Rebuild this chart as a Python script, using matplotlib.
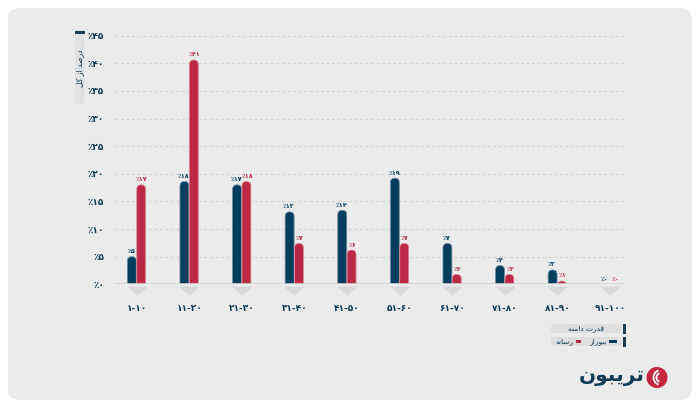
import matplotlib
matplotlib.use("Agg")
import matplotlib.pyplot as plt
from matplotlib.patches import FancyBboxPatch, Circle, Arc, Rectangle

# ---------------- data ----------------
categories = ['۱-۱۰', '۱۱-۲۰', '۲۱-۳۰', '۳۱-۴۰', '۴۱-۵۰',
              '۵۱-۶۰', '۶۱-۷۰', '۷۱-۸۰', '۸۱-۹۰', '۹۱-۱۰۰']
blue_values = [5.0, 18.6, 18.0, 13.1, 13.4, 19.2, 7.4, 3.4, 2.6, 0.0]
red_values = [18.0, 40.6, 18.6, 7.4, 6.2, 7.4, 1.8, 1.8, 0.6, 0.0]
blue_labels = ['٪۵', '٪۱۸', '٪۱۷', '٪۱۳', '٪۱۴', '٪۱۹', '٪۷', '٪۴', '٪۳', '٪۰']
red_labels = ['٪۱۷', '٪۴۱', '٪۱۸', '٪۷', '٪۶', '٪۷', '٪۲', '٪۲', '٪۱', '٪۰']
yticks = [0, 5, 10, 15, 20, 25, 30, 35, 40, 45]
ytick_labels = ['٪۰', '٪۵', '٪۱۰', '٪۱۵', '٪۲۰', '٪۲۵', '٪۳۰', '٪۳۵', '٪۴۰', '٪۴۵']
ylabel_text = 'درصد از کل'
legend_title = 'قدرت دامنه'
blue_name = 'بیوزار'
red_name = 'رسانه'
logo_text = 'تریبون'

BLUE = '#013e5e'
RED = '#bb2946'
NAVY = '#0f3b55'
CARD = '#ebebeb'

# ---------------- simple Arabic/Persian shaping ----------------
FORMS = {
    'ا': ('\uFE8D', '\uFE8E', None, None),
    'ب': ('\uFE8F', '\uFE90', '\uFE91', '\uFE92'),
    'ت': ('\uFE95', '\uFE96', '\uFE97', '\uFE98'),
    'د': ('\uFEA9', '\uFEAA', None, None),
    'ر': ('\uFEAD', '\uFEAE', None, None),
    'ز': ('\uFEAF', '\uFEB0', None, None),
    'س': ('\uFEB1', '\uFEB2', '\uFEB3', '\uFEB4'),
    'ص': ('\uFEB9', '\uFEBA', '\uFEBB', '\uFEBC'),
    'ق': ('\uFED5', '\uFED6', '\uFED7', '\uFED8'),
    'ک': ('\uFB8E', '\uFB8F', '\uFB90', '\uFB91'),
    'ل': ('\uFEDD', '\uFEDE', '\uFEDF', '\uFEE0'),
    'م': ('\uFEE1', '\uFEE2', '\uFEE3', '\uFEE4'),
    'ن': ('\uFEE5', '\uFEE6', '\uFEE7', '\uFEE8'),
    'ه': ('\uFEE9', '\uFEEA', '\uFEEB', '\uFEEC'),
    'و': ('\uFEED', '\uFEEE', None, None),
    'ی': ('\uFBFC', '\uFBFD', '\uFBFE', '\uFBFF'),
}


def shape(text):
    out = []
    for i, c in enumerate(text):
        if c not in FORMS:
            out.append(c)
            continue
        prev = text[i - 1] if i > 0 else None
        nxt = text[i + 1] if i + 1 < len(text) else None
        jp = prev in FORMS and FORMS[prev][2] is not None
        jn = nxt in FORMS and FORMS[c][2] is not None
        iso, fin, ini, med = FORMS[c]
        if jp and jn:
            out.append(med)
        elif jp:
            out.append(fin)
        elif jn:
            out.append(ini)
        else:
            out.append(iso)
    return ''.join(reversed(out))


plt.rcParams['font.family'] = ['DejaVu Sans']

W, H = 700, 408
fig = plt.figure(figsize=(W / 100, H / 100), dpi=100)
fig.patch.set_facecolor('white')

# background / decoration axes in pixel coordinates
bg = fig.add_axes([0, 0, 1, 1], zorder=0)
bg.set_xlim(0, W)
bg.set_ylim(H, 0)
bg.axis('off')
bg.add_patch(FancyBboxPatch((8, 8), 684, 392, boxstyle='round,pad=0,rounding_size=12',
                            fc=CARD, ec='none'))

# y-label box
bg.add_patch(FancyBboxPatch((75, 30), 9.5, 74, boxstyle='round,pad=0,rounding_size=4',
                            fc='#e0e0e0', ec='none'))
bg.add_patch(Rectangle((75, 30.5), 9.5, 3, fc='#1c3d52', ec='none'))
bg.text(80, 68, shape(ylabel_text), rotation=90, ha='center', va='center',
        fontsize=5.5, color=NAVY)

# legend
for yy in (324, 337):
    bg.add_patch(FancyBboxPatch((551, yy), 70, 9, boxstyle='round,pad=0,rounding_size=4',
                                fc='#dedede', ec='none'))
    bg.add_patch(Rectangle((623, yy), 2.5, 10, fc='#1c3d52', ec='none'))
bg.text(586, 328.7, shape(legend_title), ha='center', va='center', fontsize=5.3, color=NAVY)
bg.add_patch(Rectangle((609, 340), 8, 3, fc=BLUE, ec='none'))
bg.text(607, 341.5, shape(blue_name), ha='right', va='center', fontsize=5.3, color=NAVY)
bg.add_patch(Rectangle((576, 340), 5, 3, fc=RED, ec='none'))
bg.text(574, 341.5, shape(red_name), ha='right', va='center', fontsize=5.3, color=NAVY)

# logo
bg.add_patch(Circle((657, 377.5), 10.5, fc='#c4283e', ec='none'))
for rr in (4.5, 7.5):
    bg.add_patch(Arc((661, 377.5), rr * 2, rr * 2, theta1=110, theta2=250,
                     color='white', lw=1.3))
bg.text(645, 377, shape(logo_text), ha='right', va='center', fontsize=14.5,
        fontweight='bold', color=NAVY)

# ---------------- main chart ----------------
ax = fig.add_axes([115 / W, (H - 284.3) / H, 510 / W, 248.7 / H], zorder=1)
ax.set_facecolor('none')
ax.set_xlim(-0.409, 9.287)
ax.set_ylim(0, 45)
for s in ax.spines.values():
    s.set_visible(False)

for yv in yticks[1:]:
    ax.axhline(yv, color='#d3d3d3', lw=0.8, ls=(0, (2.5, 2.5)), zorder=0)
ax.axhline(0, color='#d2d2d2', lw=1.2, zorder=3)

ax.set_yticks(yticks)
ax.set_yticklabels(ytick_labels, fontsize=6.5, color=NAVY, fontweight='bold')
ax.tick_params(axis='y', length=0, pad=8)
ax.set_xticks(range(len(categories)))
ax.set_xticklabels(categories, fontsize=6.5, color=NAVY, fontweight='bold')
ax.tick_params(axis='x', length=0, pad=14)

x = list(range(len(categories)))
bw = 0.17
off = 0.089
bars_b = ax.bar([i - off for i in x], blue_values, width=bw, color=BLUE)
bars_r = ax.bar([i + off for i in x], red_values, width=bw, color=RED)

# replace rectangles by rounded-top bars
px_x = 1 / 52.6
px_y = 45 / 248.7
aspect = px_y / px_x
for bars, col, edge in ((bars_b, BLUE, '#6f8fa3'), (bars_r, RED, '#dd8c9b')):
    for p in bars:
        p.set_visible(False)
        h = p.get_height()
        if h <= 0:
            continue
        fb = FancyBboxPatch((p.get_x(), -2), p.get_width(), h + 2,
                            boxstyle='round,pad=0,rounding_size=%f' % (p.get_width() / 2),
                            mutation_aspect=aspect, fc=col, ec=edge, lw=0.6, zorder=2)
        ax.add_patch(fb)

for bars, labels, col, dx in ((bars_b, blue_labels, BLUE, -0.5), (bars_r, red_labels, RED, 0.5)):
    for p, lab in zip(bars, labels):
        ax.annotate(lab, (p.get_x() + p.get_width() / 2, p.get_height()),
                    xytext=(dx, 1.8), textcoords='offset points', ha='center', va='bottom',
                    fontsize=4.6, color=col, fontweight='bold')

# small triangles under groups
tri = [(-1, 0), (1, 0), (0, -0.9)]
ax.scatter(x, [-0.35] * len(x), marker=tri, s=(21 * 0.72) ** 2, color='#dadada',
           clip_on=False, zorder=1, linewidths=0)

fig.savefig('out.png', dpi=100, facecolor=fig.get_facecolor())
